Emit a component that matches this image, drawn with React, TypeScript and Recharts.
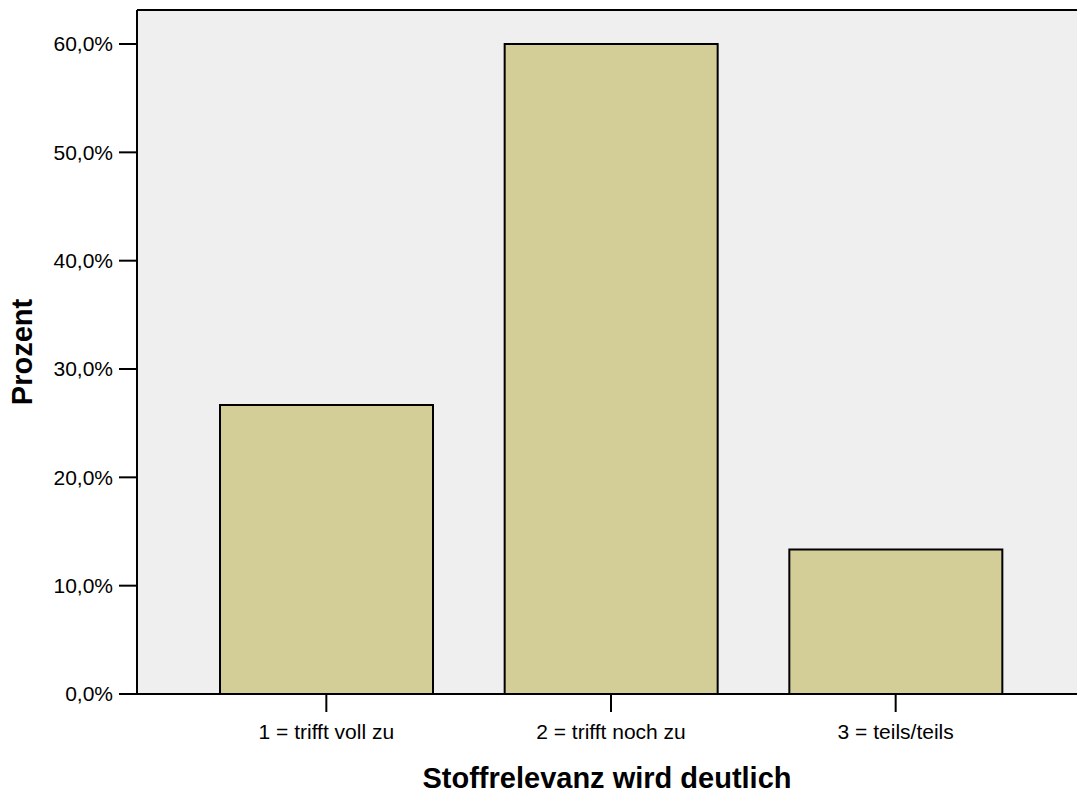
import { BarChart, Bar, XAxis, YAxis, CartesianGrid, ReferenceLine, Label } from 'recharts';

// Antwortkategorien und Prozentwerte
const categories = ['1 = trifft voll zu', '2 = trifft noch zu', '3 = teils/teils'];
const percents = [26.67, 60.0, 13.33];
const yTicks = [0, 10, 20, 30, 40, 50, 60];
const yMax = 63.14;

const data = categories.map((name, i) => ({ name, value: percents[i] }));

const font = 'Arial, "Liberation Sans", Helvetica, sans-serif';

const fmt = (v: number) => v.toFixed(1).replace('.', ',') + '%';

export default function App() {
  return (
    <div style={{ position: 'absolute', left: 0, top: 0, width: 1077, height: 794, background: '#fff' }}>
      <BarChart
        width={1077}
        height={794}
        data={data}
        margin={{ top: 10, right: 0, bottom: 0, left: 0 }}
        style={{ fontFamily: font }}
      >
        <CartesianGrid horizontal={false} vertical={false} fill="#EFEFEF" />
        <ReferenceLine y={yMax} stroke="#000" strokeWidth={2} />
        <XAxis
          dataKey="name"
          height={100}
          padding={{ left: 47, right: 39 }}
          axisLine={{ stroke: '#000', strokeWidth: 2 }}
          tickLine={{ stroke: '#000', strokeWidth: 2 }}
          tickSize={18}
          tickMargin={12}
          tick={{ fill: '#000', fontSize: 21, fontFamily: font }}
        >
          <Label
            content={({ viewBox }: any) => (
              <text
                x={viewBox.x + viewBox.width / 2}
                y={788}
                textAnchor="middle"
                fontSize={29}
                fontWeight="bold"
                fontFamily={font}
                fill="#000"
              >
                Stoffrelevanz wird deutlich
              </text>
            )}
          />
        </XAxis>
        <YAxis
          width={137}
          domain={[0, yMax]}
          ticks={yTicks}
          tickFormatter={fmt}
          axisLine={{ stroke: '#000', strokeWidth: 2 }}
          tickLine={{ stroke: '#000', strokeWidth: 2 }}
          tickSize={18}
          tickMargin={6}
          tick={{ fill: '#000', fontSize: 21, fontFamily: font }}
        >
          <Label
            content={({ viewBox }: any) => (
              <text
                x={32}
                y={viewBox.y + viewBox.height / 2}
                transform={`rotate(-90, 32, ${viewBox.y + viewBox.height / 2})`}
                textAnchor="middle"
                fontSize={29}
                fontWeight="bold"
                fontFamily={font}
                fill="#000"
              >
                Prozent
              </text>
            )}
          />
        </YAxis>
        <Bar dataKey="value" fill="#D3CE97" stroke="#000" strokeWidth={2} barSize={213} isAnimationActive={false} />
      </BarChart>
    </div>
  );
}
